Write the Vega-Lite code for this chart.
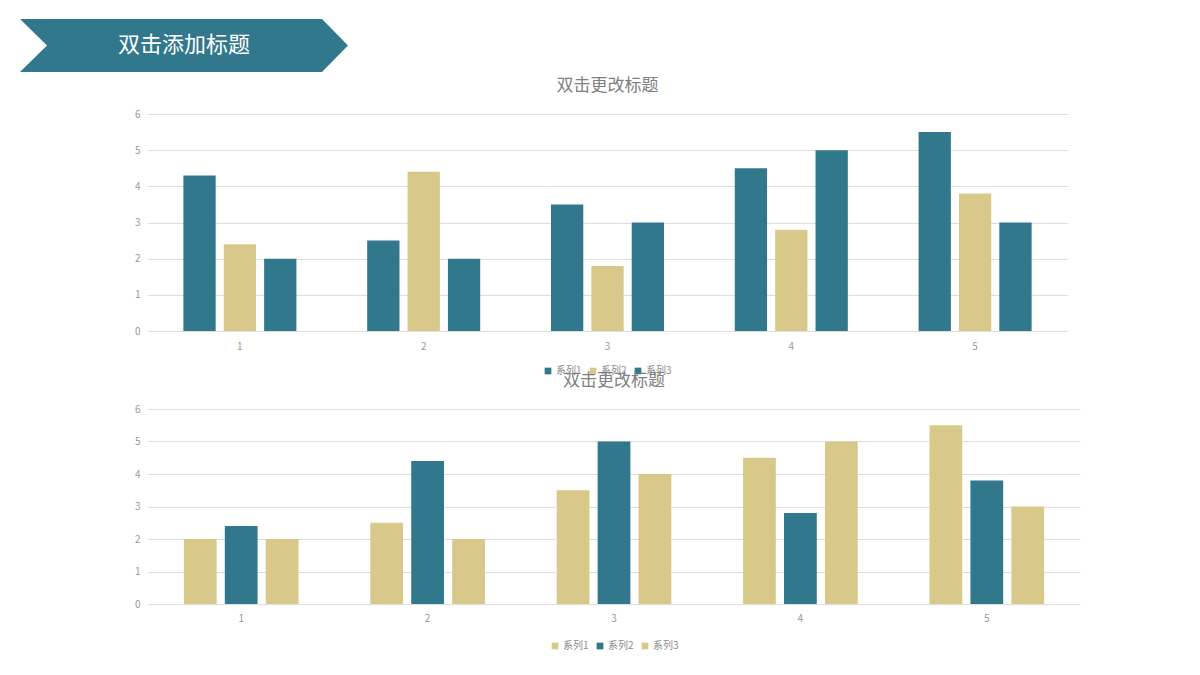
{
  "$schema": "https://vega.github.io/schema/vega-lite/v6.json",
  "background": "white",
  "padding": {"left": 20, "top": 18, "right": 5, "bottom": 5},
  "datasets": {
    "header": [{"标题": "双击添加标题"}],
    "top": [
      {"类别": "1", "系列": "系列1", "值": 4.3},
      {"类别": "1", "系列": "系列2", "值": 2.4},
      {"类别": "1", "系列": "系列3", "值": 2},
      {"类别": "2", "系列": "系列1", "值": 2.5},
      {"类别": "2", "系列": "系列2", "值": 4.4},
      {"类别": "2", "系列": "系列3", "值": 2},
      {"类别": "3", "系列": "系列1", "值": 3.5},
      {"类别": "3", "系列": "系列2", "值": 1.8},
      {"类别": "3", "系列": "系列3", "值": 3},
      {"类别": "4", "系列": "系列1", "值": 4.5},
      {"类别": "4", "系列": "系列2", "值": 2.8},
      {"类别": "4", "系列": "系列3", "值": 5},
      {"类别": "5", "系列": "系列1", "值": 5.5},
      {"类别": "5", "系列": "系列2", "值": 3.8},
      {"类别": "5", "系列": "系列3", "值": 3}
    ],
    "bottom": [
      {"类别": "1", "系列": "系列1", "值": 2},
      {"类别": "1", "系列": "系列2", "值": 2.4},
      {"类别": "1", "系列": "系列3", "值": 2},
      {"类别": "2", "系列": "系列1", "值": 2.5},
      {"类别": "2", "系列": "系列2", "值": 4.4},
      {"类别": "2", "系列": "系列3", "值": 2},
      {"类别": "3", "系列": "系列1", "值": 3.5},
      {"类别": "3", "系列": "系列2", "值": 5},
      {"类别": "3", "系列": "系列3", "值": 4},
      {"类别": "4", "系列": "系列1", "值": 4.5},
      {"类别": "4", "系列": "系列2", "值": 2.8},
      {"类别": "4", "系列": "系列3", "值": 5},
      {"类别": "5", "系列": "系列1", "值": 5.5},
      {"类别": "5", "系列": "系列2", "值": 3.8},
      {"类别": "5", "系列": "系列3", "值": 3}
    ]
  },
  "bounds": "flush",
  "spacing": 78,
  "resolve": {
    "scale": {"x": "independent", "y": "independent", "xOffset": "independent", "color": "independent"},
    "legend": {"color": "independent"}
  },
  "vconcat": [
    {
      "data": {"name": "header"},
      "width": 919,
      "height": 17,
      "layer": [
        {
          "mark": {
            "type": "point",
            "filled": true,
            "opacity": 1,
            "color": "#31788d",
            "strokeWidth": 0,
            "size": 107584,
            "shape": "M-1,-0.1616L0.8415,-0.1616L1,0L0.8415,0.1616L-1,0.1616L-0.8354,0Z"
          },
          "encoding": {
            "x": {"datum": 36, "type": "quantitative", "scale": {"domain": [0, 919], "nice": false, "zero": false}, "axis": null},
            "y": {"datum": 26.4, "type": "quantitative", "scale": {"domain": [0, 17], "nice": false, "zero": false, "reverse": true}, "axis": null}
          }
        },
        {
          "mark": {"type": "text", "color": "white", "fontSize": 22, "align": "center", "baseline": "middle"},
          "encoding": {
            "x": {"datum": 36, "type": "quantitative"},
            "y": {"datum": 26.4, "type": "quantitative"},
            "text": {"field": "标题"}
          }
        }
      ]
    },
    {
      "data": {"name": "top"},
      "width": 919,
      "height": 217,
      "title": {"text": "双击更改标题"},
      "mark": {"type": "bar"},
      "encoding": {
        "x": {"field": "类别", "type": "nominal", "title": null,
          "scale": {"paddingInner": 0.385, "paddingOuter": 0.1925},
          "axis": {"labelAngle": 0, "labelPadding": 10}},
        "xOffset": {"field": "系列", "type": "nominal", "scale": {"paddingInner": 0.2, "paddingOuter": 0}},
        "y": {"field": "值", "type": "quantitative", "title": null,
          "scale": {"domain": [0, 6], "nice": false},
          "axis": {"values": [0, 1, 2, 3, 4, 5, 6], "labelPadding": 8}},
        "color": {"field": "系列", "type": "nominal", "title": null,
          "scale": {"domain": ["系列1", "系列2", "系列3"], "range": ["#31788d", "#d8c98b", "#31788d"]},
          "legend": {"orient": "bottom", "direction": "horizontal", "offset": 15}}
      }
    },
    {
      "data": {"name": "bottom"},
      "width": 932,
      "height": 195,
      "title": {"text": "双击更改标题"},
      "mark": {"type": "bar"},
      "encoding": {
        "x": {"field": "类别", "type": "nominal", "title": null,
          "scale": {"paddingInner": 0.385, "paddingOuter": 0.1925},
          "axis": {"labelAngle": 0, "labelPadding": 9}},
        "xOffset": {"field": "系列", "type": "nominal", "scale": {"paddingInner": 0.2, "paddingOuter": 0}},
        "y": {"field": "值", "type": "quantitative", "title": null,
          "scale": {"domain": [0, 6], "nice": false},
          "axis": {"values": [0, 1, 2, 3, 4, 5, 6], "labelPadding": 8}},
        "color": {"field": "系列", "type": "nominal", "title": null,
          "scale": {"domain": ["系列1", "系列2", "系列3"], "range": ["#d8c98b", "#31788d", "#d8c98b"]},
          "legend": {"orient": "bottom", "direction": "horizontal", "offset": 18}}
      }
    }
  ],
  "config": {
    "font": "Noto Sans CJK SC",
    "view": {"stroke": null},
    "axis": {
      "domain": false,
      "ticks": false,
      "labelColor": "#999999",
      "labelFontSize": 10,
      "gridColor": "#dddddd",
      "gridWidth": 1
    },
    "axisX": {"grid": false},
    "title": {"fontSize": 17, "fontWeight": "normal", "color": "#808080", "offset": 14, "anchor": "middle"},
    "legend": {
      "symbolType": "square",
      "symbolSize": 45,
      "symbolOpacity": 1,
      "labelFontSize": 10,
      "labelColor": "#8c8c8c",
      "columnPadding": 6,
      "labelOffset": 3,
      "padding": 0,
      "layout": {"bottom": {"anchor": "middle"}}
    }
  }
}
